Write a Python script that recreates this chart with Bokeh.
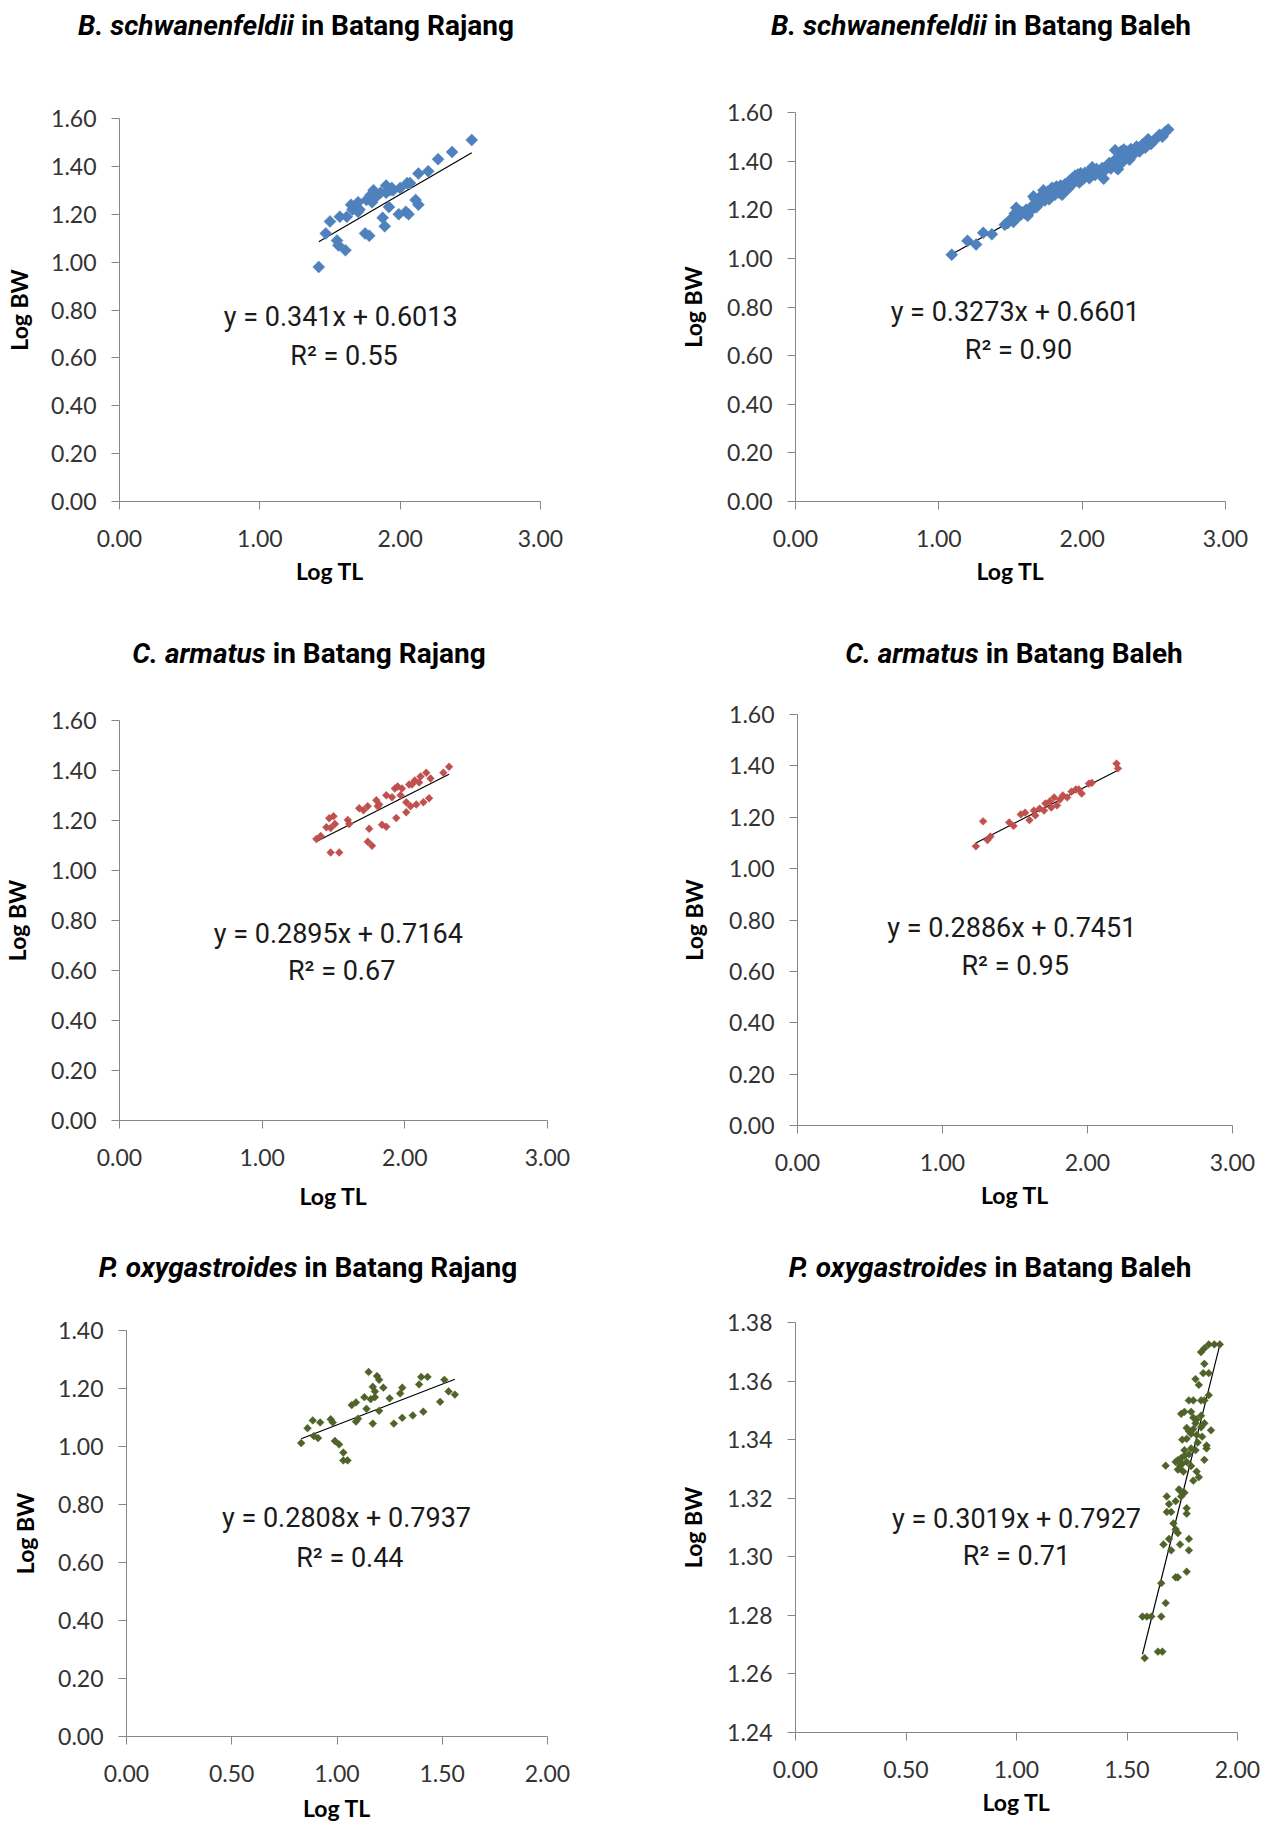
import numpy as np
from bokeh.plotting import figure
from bokeh.models import Range1d, FixedTicker, NumeralTickFormatter, Label, Div
from bokeh.layouts import column, row
from bokeh.embed import file_html
from bokeh.resources import INLINE

# ---------------- data ----------------
# Panel 1: B. schwanenfeldii in Batang Rajang
bs_rajang_tl = [1.42, 1.47, 1.50, 1.55, 1.56, 1.57, 1.61, 1.62, 1.65, 1.66, 1.68, 1.70, 1.70, 1.71,
                1.75, 1.76, 1.78, 1.79, 1.80, 1.81, 1.82, 1.84, 1.86, 1.875, 1.89, 1.90, 1.90, 1.92,
                1.93, 1.94, 1.95, 1.99, 2.00, 2.04, 2.05, 2.06, 2.07, 2.11, 2.13, 2.13, 2.20, 2.27,
                2.37, 2.51]
bs_rajang_bw = [0.98, 1.12, 1.17, 1.09, 1.07, 1.19, 1.05, 1.19, 1.24, 1.22, 1.23, 1.25, 1.21, 1.22,
                1.12, 1.26, 1.11, 1.28, 1.25, 1.30, 1.27, 1.28, 1.29, 1.185, 1.15, 1.32, 1.29, 1.23,
                1.30, 1.31, 1.30, 1.20, 1.31, 1.21, 1.33, 1.20, 1.33, 1.26, 1.24, 1.37, 1.38, 1.43,
                1.46, 1.51]

# Panel 2: B. schwanenfeldii in Batang Baleh
bs_baleh_tl = [1.09, 1.20, 1.26, 1.31, 1.37, 1.46, 1.48, 1.50, 1.52, 1.53, 1.54, 1.55, 1.56, 1.57,
               1.58, 1.60, 1.61, 1.62, 1.64, 1.65, 1.66, 1.67, 1.68, 1.69, 1.70, 1.71, 1.72, 1.73,
               1.74, 1.75, 1.76, 1.77, 1.78, 1.79, 1.80, 1.81, 1.82, 1.83, 1.84, 1.85, 1.86, 1.87,
               1.88, 1.90, 1.91, 1.92, 1.93, 1.94, 1.95, 1.96, 1.97, 1.98, 1.99, 2.00, 2.01, 2.02,
               2.03, 2.05, 2.06, 2.07, 2.08, 2.09, 2.10, 2.12, 2.14, 2.15, 2.16, 2.18, 2.19, 2.20,
               2.22, 2.23, 2.24, 2.25, 2.26, 2.27, 2.28, 2.29, 2.30, 2.31, 2.33, 2.34, 2.36, 2.38,
               2.40, 2.42, 2.44, 2.46, 2.48, 2.50, 2.52, 2.54, 2.56, 2.58, 2.60]
bs_baleh_bw = [1.015, 1.072, 1.057, 1.105, 1.099, 1.138, 1.145, 1.160, 1.150, 1.185, 1.208, 1.170,
               1.195, 1.178, 1.190, 1.186, 1.200, 1.175, 1.195, 1.215, 1.255, 1.245, 1.210, 1.235,
               1.225, 1.250, 1.262, 1.280, 1.238, 1.255, 1.275, 1.243, 1.268, 1.290, 1.278, 1.262,
               1.296, 1.285, 1.270, 1.300, 1.262, 1.290, 1.305, 1.285, 1.318, 1.300, 1.328, 1.310,
               1.340, 1.322, 1.345, 1.312, 1.350, 1.335, 1.328, 1.352, 1.340, 1.330, 1.360, 1.375,
               1.348, 1.343, 1.368, 1.355, 1.372, 1.328, 1.362, 1.385, 1.392, 1.370, 1.400, 1.445,
               1.372, 1.367, 1.415, 1.440, 1.395, 1.448, 1.420, 1.440, 1.406, 1.450, 1.428, 1.460,
               1.440, 1.468, 1.455, 1.490, 1.470, 1.485, 1.495, 1.508, 1.500, 1.520, 1.530]

# Panel 3: C. armatus in Batang Rajang
ca_rajang_tl = [1.38, 1.41, 1.45, 1.47, 1.50, 1.48, 1.51, 1.48, 1.54, 1.60, 1.61, 1.68, 1.71, 1.74,
                1.75, 1.74, 1.77, 1.80, 1.81, 1.82, 1.84, 1.87, 1.87, 1.91, 1.94, 1.95, 1.98, 2.01,
                2.01, 2.03, 2.05, 2.07, 2.10, 2.13, 2.11, 2.15, 2.17, 2.18, 2.27, 2.31, 1.93, 1.97,
                2.04, 2.08]
ca_rajang_bw = [1.126, 1.138, 1.173, 1.209, 1.217, 1.170, 1.186, 1.072, 1.072, 1.202, 1.186, 1.249,
                1.241, 1.257, 1.167, 1.115, 1.099, 1.281, 1.257, 1.264, 1.183, 1.175, 1.301, 1.293,
                1.210, 1.336, 1.328, 1.273, 1.233, 1.344, 1.344, 1.360, 1.352, 1.273, 1.376, 1.391,
                1.289, 1.368, 1.391, 1.415, 1.328, 1.301, 1.257, 1.264]

# Panel 4: C. armatus in Batang Baleh
ca_baleh_tl = [1.23, 1.28, 1.31, 1.33, 1.46, 1.49, 1.54, 1.57, 1.60, 1.63, 1.64, 1.67, 1.70, 1.71,
               1.74, 1.75, 1.77, 1.79, 1.81, 1.83, 1.86, 1.89, 1.92, 1.94, 1.96, 2.01, 2.03, 2.20,
               2.21]
ca_baleh_bw = [1.087, 1.184, 1.111, 1.125, 1.180, 1.166, 1.211, 1.218, 1.189, 1.226, 1.207, 1.234,
               1.226, 1.254, 1.262, 1.238, 1.277, 1.246, 1.269, 1.285, 1.277, 1.300, 1.308, 1.308,
               1.292, 1.331, 1.334, 1.409, 1.390]

# Panel 5: P. oxygastroides in Batang Rajang
po_rajang_tl = [0.83, 0.86, 0.885, 0.89, 0.91, 0.92, 0.97, 0.98, 0.99, 1.01, 1.03, 1.03, 1.05, 1.07,
                1.09, 1.09, 1.10, 1.13, 1.14, 1.15, 1.16, 1.17, 1.17, 1.18, 1.18, 1.19, 1.20, 1.20,
                1.22, 1.25, 1.27, 1.30, 1.31, 1.31, 1.36, 1.39, 1.40, 1.41, 1.43, 1.49, 1.51, 1.53,
                1.56]
po_rajang_bw = [1.012, 1.063, 1.090, 1.036, 1.029, 1.083, 1.094, 1.083, 1.019, 1.007, 0.979, 0.952,
                0.952, 1.143, 1.152, 1.086, 1.096, 1.170, 1.130, 1.257, 1.163, 1.206, 1.079, 1.170,
                1.190, 1.243, 1.230, 1.123, 1.203, 1.166, 1.079, 1.183, 1.203, 1.099, 1.107, 1.214,
                1.240, 1.120, 1.240, 1.154, 1.230, 1.190, 1.179]

# Panel 6: P. oxygastroides in Batang Baleh
po_baleh_tl = [1.58, 1.57, 1.59, 1.61, 1.64, 1.66, 1.655, 1.675, 1.655, 1.665, 1.70, 1.69, 1.72,
               1.73, 1.77, 1.78, 1.78, 1.74, 1.71, 1.72, 1.73, 1.68, 1.69, 1.70, 1.68, 1.74, 1.745,
               1.76, 1.77, 1.77, 1.675, 1.72, 1.73, 1.74, 1.745, 1.755, 1.76, 1.77, 1.78, 1.79,
               1.81, 1.815, 1.825, 1.85, 1.86, 1.77, 1.78, 1.80, 1.81, 1.815, 1.835, 1.85, 1.88,
               1.745, 1.76, 1.79, 1.80, 1.815, 1.835, 1.78, 1.80, 1.835, 1.85, 1.87, 1.81, 1.825,
               1.845, 1.87, 1.85, 1.835, 1.85, 1.87, 1.895, 1.92, 1.75, 1.76, 1.73, 1.74, 1.79,
               1.80, 1.82, 1.84, 1.86, 1.75, 1.77, 1.79, 1.72, 1.735]
po_baleh_bw = [1.2654, 1.2796, 1.2796, 1.2796, 1.2676, 1.2676, 1.2796, 1.2842, 1.2910, 1.3042,
               1.3022, 1.3061, 1.2930, 1.2930, 1.2949, 1.3022, 1.3061, 1.3042, 1.3114, 1.3094,
               1.3081, 1.3206, 1.3180, 1.3153, 1.3153, 1.3226, 1.3206, 1.3219, 1.3166, 1.3147,
               1.3311, 1.3324, 1.3298, 1.3311, 1.3337, 1.3291, 1.3364, 1.3324, 1.3350, 1.3370,
               1.3364, 1.3291, 1.3272, 1.3331, 1.3370, 1.3403, 1.3429, 1.3436, 1.3456, 1.3416,
               1.3442, 1.3456, 1.3432, 1.3488, 1.3495, 1.3495, 1.3475, 1.3469, 1.3482, 1.3534,
               1.3534, 1.3534, 1.3534, 1.3552, 1.3607, 1.3587, 1.3627, 1.3627, 1.3659, 1.3699,
               1.3712, 1.3725, 1.3725, 1.3725, 1.3318, 1.3345, 1.3330, 1.3300, 1.3310, 1.3260,
               1.3390, 1.3410, 1.3380, 1.3400, 1.3440, 1.3420, 1.3190, 1.3230]

# Fitted equations (slope, intercept) and their printed forms
fits = {
    "p1": (0.341, 0.6013, "y = 0.341x  + 0.6013", "R² = 0.55"),
    "p2": (0.3273, 0.6601, "y = 0.3273x  + 0.6601", "R² = 0.90"),
    "p3": (0.2895, 0.7164, "y = 0.2895x  + 0.7164", "R² = 0.67"),
    "p4": (0.2886, 0.7451, "y = 0.2886x  + 0.7451", "R² = 0.95"),
    "p5": (0.2808, 0.7937, "y = 0.2808x  + 0.7937", "R² = 0.44"),
    "p6": (0.3019, 0.7927, "y = 0.3019x + 0.7927", "R² = 0.71"),
}

species = ["B. schwanenfeldii", "B. schwanenfeldii", "C. armatus", "C. armatus",
           "P. oxygastroides", "P. oxygastroides"]
rivers = ["in Batang Rajang", "in Batang Baleh", "in Batang Rajang", "in Batang Baleh",
          "in Batang Rajang", "in Batang Baleh"]

x_ticks_3 = [0.0, 1.0, 2.0, 3.0]
x_ticks_2 = [0.0, 0.5, 1.0, 1.5, 2.0]
y_ticks_16 = [0.0, 0.2, 0.4, 0.6, 0.8, 1.0, 1.2, 1.4, 1.6]
y_ticks_14 = [0.0, 0.2, 0.4, 0.6, 0.8, 1.0, 1.2, 1.4]
y_ticks_138 = [1.24, 1.26, 1.28, 1.30, 1.32, 1.34, 1.36, 1.38]

BLUE = "#4F81BD"
RED = "#C0504D"
GREEN = "#4F6228"

TICK_FONT = "Lato"
EQ_FONT = "Roboto"
AXIS_GREY = "#868686"

LEFT_W, RIGHT_W = 640, 620


def make_panel(origin, size, frame, xs, ys, color, msize, xticks, yticks, fit,
               eq_pos, xlab_standoff, ylab_standoff):
    ox, oy = origin
    W, H = size
    fx0, fx1, fy0, fy1 = frame
    L = fx0 - ox
    R = ox + W - fx1
    T = fy0 - oy
    B = oy + H - fy1
    p = figure(frame_width=fx1 - fx0, frame_height=fy1 - fy0,
               x_range=Range1d(xticks[0], xticks[-1]), y_range=Range1d(yticks[0], yticks[-1]),
               output_backend="svg", toolbar_location=None,
               min_border_left=L, min_border_right=R, min_border_top=T, min_border_bottom=B)
    p.frame_align = False
    p.outline_line_color = None
    p.xgrid.visible = False
    p.ygrid.visible = False
    p.background_fill_color = "white"
    p.border_fill_color = "white"

    for ax, ticks in ((p.xaxis[0], xticks), (p.yaxis[0], yticks)):
        ax.ticker = FixedTicker(ticks=ticks)
        ax.formatter = NumeralTickFormatter(format="0.00")
        ax.axis_line_color = AXIS_GREY
        ax.major_tick_line_color = AXIS_GREY
        ax.major_tick_out = 8
        ax.major_tick_in = 0
        ax.minor_tick_line_color = None
        ax.major_label_text_font = TICK_FONT
        ax.major_label_text_font_size = "23px"
        ax.major_label_text_color = "#333333"
        ax.axis_label_text_font = TICK_FONT
        ax.axis_label_text_font_style = "bold"
        ax.axis_label_text_font_size = "23px"
        ax.axis_label_text_color = "black"
    p.xaxis[0].major_label_standoff = 20
    p.yaxis[0].major_label_standoff = 15
    p.xaxis[0].axis_label = "Log TL"
    p.yaxis[0].axis_label = "Log BW"
    p.xaxis[0].axis_label_standoff = xlab_standoff
    p.yaxis[0].axis_label_standoff = ylab_standoff

    slope, icpt, eq_text, r2_text = fit
    xmin, xmax = min(xs), max(xs)
    p.line([xmin, xmax], [slope * xmin + icpt, slope * xmax + icpt],
           line_color="black", line_width=1.2)
    p.scatter(xs, ys, marker="square", angle=np.pi / 4, size=msize,
              fill_color=color, line_color=color, line_width=0.5)

    ex, ey1, ey2 = eq_pos
    for yy, txt in ((ey1, eq_text), (ey2, r2_text)):
        p.add_layout(Label(x=ex, y=yy, text=txt, text_font=EQ_FONT,
                           text_font_size="27px", text_align="center", text_baseline="middle",
                           text_color="#1a1a1a"))
    return p


def make_title(sp, rv, width, center_shift, pad_top, height):
    pl = max(0, 2 * center_shift)
    pr = max(0, -2 * center_shift)
    html = (f'<div style="box-sizing:border-box;width:{width}px;padding-left:{pl}px;'
            f'padding-right:{pr}px;padding-top:{pad_top}px;text-align:center;white-space:nowrap;'
            f'font-family:Roboto;font-weight:bold;font-size:28px;line-height:36px;color:black;">'
            f'<i>{sp}</i>&nbsp;{rv}</div>')
    return Div(text=html, width=width, height=height, margin=(0, 0, 0, 0))


# Row 1 (page y 0..600)
t1 = make_title(species[0], rivers[0], LEFT_W, -24, 8, 44)
t2 = make_title(species[1], rivers[1], RIGHT_W, 31, 8, 44)
p1 = make_panel((0, 44), (LEFT_W, 556), (119, 540, 118, 501), bs_rajang_tl, bs_rajang_bw, BLUE, 8.5,
                x_ticks_3, y_ticks_16, fits["p1"], (1.60, 0.771, 0.606), 7, 15)
p2 = make_panel((LEFT_W, 44), (RIGHT_W, 556), (795, 1225, 112, 501), bs_baleh_tl, bs_baleh_bw, BLUE, 8.5,
                x_ticks_3, y_ticks_16, fits["p2"], (1.556, 0.778, 0.622), 7, 17)

# Row 2 (page y 600..1212)
t3 = make_title(species[2], rivers[2], LEFT_W, -11, 36, 72)
t4 = make_title(species[3], rivers[3], RIGHT_W, 64, 36, 72)
p3 = make_panel((0, 672), (LEFT_W, 540), (118, 546, 720, 1120), ca_rajang_tl, ca_rajang_bw, RED, 5.5,
                x_ticks_3, y_ticks_16, fits["p3"], (1.557, 0.748, 0.600), 13, 17)
p4 = make_panel((LEFT_W, 672), (RIGHT_W, 540), (796, 1231, 714, 1125), ca_baleh_tl, ca_baleh_bw, RED, 5.5,
                x_ticks_3, y_ticks_16, fits["p4"], (1.501, 0.770, 0.620), 7, 18)

# Row 3 (page y 1212..1825)
t5 = make_title(species[4], rivers[4], LEFT_W, -12, 38, 74)
t6 = make_title(species[5], rivers[5], RIGHT_W, 40, 38, 74)
p5 = make_panel((0, 1286), (LEFT_W, 539), (126, 547, 1330, 1736), po_rajang_tl, po_rajang_bw, GREEN, 5.5,
                x_ticks_2, y_ticks_14, fits["p5"], (1.061, 0.752, 0.617), 9, 16)
p6 = make_panel((LEFT_W, 1286), (RIGHT_W, 539), (795, 1237, 1322, 1732), po_baleh_tl, po_baleh_bw, GREEN, 5.5,
                x_ticks_2, y_ticks_138, fits["p6"], (1.00, 1.3129, 1.3003), 7, 17)

layout = column(row(t1, t2), row(p1, p2), row(t3, t4), row(p3, p4), row(t5, t6), row(p5, p6))
open("out.html", "w").write(file_html(layout, INLINE))
